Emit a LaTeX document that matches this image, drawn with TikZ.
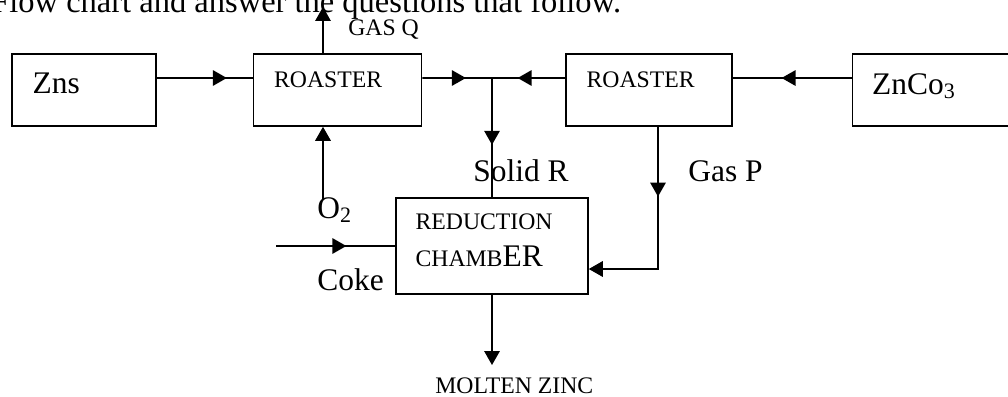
\documentclass[tikz,border=0pt]{standalone}
\usepackage{fontspec}
\setmainfont{Liberation Serif}
\usetikzlibrary{arrows.meta,positioning,decorations.markings}
\newcommand{\bigtext}{\fontsize{17.9}{21}\selectfont}
\newcommand{\smalltext}{\fontsize{13.5}{16}\selectfont}

\begin{document}
\begin{tikzpicture}[x=0.02cm,y=-0.02cm,
  unit/.style={draw,line width=0.9pt,minimum height=1.44cm,inner sep=0pt},
  big/.style={font=\bigtext,inner sep=0pt,anchor=base west},
  small/.style={font=\smalltext,inner sep=0pt,anchor=base west},
  arr/.style={line width=0.9pt,-{Triangle[length=0.28cm,width=0.31cm]}},
  midarr/.style={line width=0.9pt,postaction={decorate},decoration={markings,mark=at position #1 with {\arrow{Triangle[length=0.28cm,width=0.31cm]}}}}
]
\path[use as bounding box] (0,0) rectangle (1008,396);
\clip (0,0) rectangle (1008,396);

% line of the question above the chart
\node[big,font=\fontsize{18.5}{22}\selectfont] (title) at (-9,12) {Flow chart and answer the questions that follow.};

% units
\node[unit,minimum width=2.88cm] (zns) at (84,90) {};
\node[unit,minimum width=3.36cm,right=1.92cm of zns] (roast1) {};
\node[unit,minimum width=3.32cm,right=2.86cm of roast1] (roast2) {};
\node[unit,minimum width=3.64cm,right=2.38cm of roast2] (znco) {};
\node[unit,minimum width=3.84cm,minimum height=1.92cm] (red) at (492,246) {};

\node[big] (znstxt) at ([shift={(21,40)}]zns.north west) {Zns};
\node[small] (roast1txt) at ([shift={(21,34)}]roast1.north west) {ROASTER};
\node[small] (roast2txt) at ([shift={(21,34)}]roast2.north west) {ROASTER};
\node[big] (znctxt) at ([shift={(20,41)}]znco.north west) {ZnCo\textsubscript{3}};
\node[small] (redtxt) at ([shift={(20,32)}]red.north west) {REDUCTION};
\node[small] (chambtxt) at ([shift={(20,69)}]red.north west) {CHAMB{\bigtext ER}};

% labels
\node[small] (gasq) at (348,35) {GAS Q};
\node[big] (o2) at (317,218) {O\textsubscript{2}};
\node[big] (solidr) at (473,181) {Solid R};
\node[big] (gasp) at (688,181) {Gas P};
\node[big] (coke) at (317,290) {Coke};
\node[small] (zinc) at (435,393) {MOLTEN ZINC};

% connectors
\coordinate (jn) at (492,78);
\coordinate (gasqout) at (323,7);
\coordinate (o2in) at (323,199);
\coordinate (cokein) at (276,246);
\coordinate (zincout) at (492,365);
\coordinate (gpbend) at (658,269);
\draw[midarr=0.73] ([yshift=0.24cm]zns.east) -- ([yshift=0.24cm]roast1.west);
\draw[midarr=0.625] ([yshift=0.24cm]roast1.east) -- (jn);
\draw[midarr=0.65] ([yshift=0.24cm]roast2.west) -- (jn);
\draw[midarr=0.59] ([yshift=0.24cm]znco.west) -- ([yshift=0.24cm]roast2.east);
\draw[midarr=0.56] (jn) -- (jn |- red.north);
\draw[arr] (roast1.north -| gasqout) -- (gasqout);
\draw[arr] (o2in) -- (o2in |- roast1.south);
\draw[midarr=0.59] (cokein) -- (red.west);
\draw[arr] (red.south) -- (zincout);
\draw[arr,midarr=0.33] (roast2.south -| gpbend) -- (gpbend) -- (gpbend -| red.east);
\end{tikzpicture}
\end{document}
